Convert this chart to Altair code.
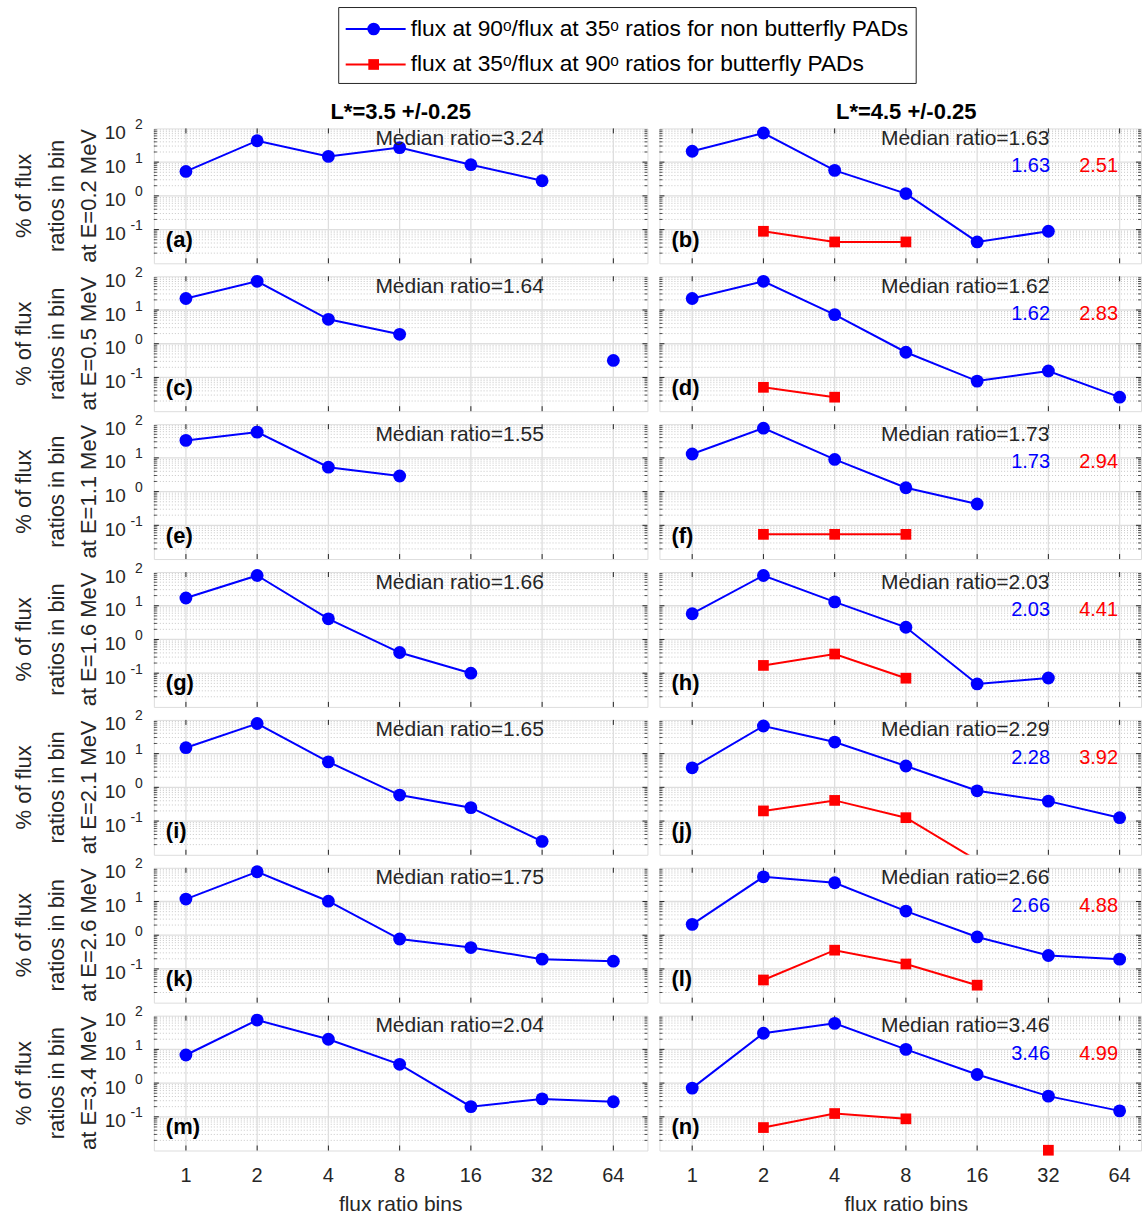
import altair as alt
import pandas as pd

# ---- data -------------------------------------------------------------
BINS = [1, 2, 4, 8, 16, 32, 64]
ENERGIES = ["0.2", "0.5", "1.1", "1.6", "2.1", "2.6", "3.4"]
LETTERS_LEFT = ["(a)", "(c)", "(e)", "(g)", "(i)", "(k)", "(m)"]
LETTERS_RIGHT = ["(b)", "(d)", "(f)", "(h)", "(j)", "(l)", "(n)"]
COLUMN_TITLES = ["L*=3.5 +/-0.25", "L*=4.5 +/-0.25"]

MEDIAN_LEFT = ["3.24", "1.64", "1.55", "1.66", "1.65", "1.75", "2.04"]
MEDIAN_RIGHT = ["1.63", "1.62", "1.73", "2.03", "2.29", "2.66", "3.46"]
BLUE_NOTE = ["1.63", "1.62", "1.73", "2.03", "2.28", "2.66", "3.46"]
RED_NOTE = ["2.51", "2.83", "2.94", "4.41", "3.92", "4.88", "4.99"]

# % of flux ratios in each bin (None = empty bin)
LEFT_BLUE = [
    [5.3, 43, 14.8, 27, 8.4, 2.8, None],
    [22, 71, 5.3, 1.9, None, None, 0.32],
    [33, 58, 5.3, 2.9, None, None, None],
    [17, 79, 4.1, 0.41, 0.10, None, None],
    [15, 78, 5.7, 0.59, 0.25, 0.025, None],
    [11.8, 76, 10.2, 0.77, 0.43, 0.195, 0.17],
    [6.8, 74, 20, 3.6, 0.20, 0.34, 0.28],
]
RIGHT_BLUE = [
    [21, 73, 5.7, 1.17, 0.043, 0.089, None],
    [22, 71, 7.3, 0.56, 0.078, 0.155, 0.026],
    [13, 76, 9.0, 1.3, 0.43, None, None],
    [5.8, 79, 13, 2.3, 0.048, 0.072, None],
    [3.8, 66, 22, 4.3, 0.79, 0.39, 0.126],
    [2.1, 54, 36, 5.2, 0.89, 0.25, 0.195],
    [0.71, 30, 59, 10, 1.8, 0.41, 0.15],
]
RIGHT_RED = [
    [None, 0.089, 0.043, 0.043, None, None, None],
    [None, 0.051, 0.026, None, None, None, None],
    [None, 0.054, 0.054, 0.054, None, None, None],
    [None, 0.17, 0.37, 0.071, None, None, None],
    [None, 0.20, 0.41, 0.126, 0.0068, None, None],
    [None, 0.047, 0.36, 0.14, 0.033, None, None],
    [None, 0.048, 0.125, 0.087, None, 0.0102, None],
]

Y_MIN, Y_MAX = 0.01, 100
DECADES = [0.1, 1, 10]
TICK_LABELS = pd.DataFrame({"v": [0.1, 1, 10, 100], "e": ["-1", "0", "1", "2"]})
MINOR = [m * 10.0 ** d for d in (-2, -1, 0, 1) for m in range(2, 10)]

LEGEND_BLUE = "flux at 90ᵒ/flux at 35ᵒ ratios for non butterfly PADs"
LEGEND_RED = "flux at 35ᵒ/flux at 90ᵒ ratios for butterfly PADs"

# ---- styling ----------------------------------------------------------
FONT = "Liberation Sans"
INK = "#262626"
BLUE = "#0000ff"
RED = "#ff0000"
W_L, W_R, H = 494, 482, 135
PX_OCT = 71.3
LEGEND_TOP = -121  # legend box top, relative to the first panel


def one(**kw):
    return pd.DataFrame({k: [v] for k, v in kw.items()})


def series_frame(values):
    rows, seg, prev = [], 0, False
    for b, v in zip(BINS, values):
        if v is None:
            if prev:
                seg += 1
            prev = False
            continue
        rows.append({"b": b, "v": v, "seg": seg})
        prev = True
    return pd.DataFrame(rows)


def txt(text, x, y, size, **kw):
    return alt.Chart(one(t=text)).mark_text(font=FONT, fontSize=size, **kw).encode(
        text="t:N", x=alt.value(x), y=alt.value(y)
    )


def legend_layers():
    top = LEGEND_TOP
    items = [(21.5, BLUE, "circle", 160, LEGEND_BLUE), (57, RED, "square", 115, LEGEND_RED)]
    layers = [
        # anchor keeping the left margin for the y titles
        alt.Chart(one(k=0)).mark_rule(opacity=0).encode(
            x=alt.value(-153), x2=alt.value(-152), y=alt.value(top), y2=alt.value(top + 1)
        ),
        alt.Chart(one(k=0)).mark_rect(fill="white", stroke=INK, strokeWidth=1).encode(
            x=alt.value(185), x2=alt.value(763), y=alt.value(top), y2=alt.value(top + 76)
        ),
    ]
    for dy, color, shape, size, label in items:
        y = top + dy
        layers.append(
            alt.Chart(one(k=0)).mark_rule(color=color, strokeWidth=2).encode(
                x=alt.value(192), x2=alt.value(252), y=alt.value(y)
            )
        )
        layers.append(
            alt.Chart(one(k=0)).mark_point(shape=shape, filled=True, size=size, color=color, opacity=1).encode(
                x=alt.value(220), y=alt.value(y)
            )
        )
        layers.append(txt(label, 257, y, 22.8, color="#000000", align="left", baseline="middle"))
    return layers


def panel(r, side):
    w = W_L if side == 0 else W_R
    lo = -0.45 if side == 0 else -0.46
    xs = alt.Scale(type="log", base=2, domain=[2 ** lo, 2 ** (lo + w / PX_OCT)], nice=False)
    ys = alt.Scale(type="log", domain=[Y_MIN, Y_MAX], nice=False)

    def X(f):
        return alt.X(f, type="quantitative", scale=xs, axis=None)

    def Y(f):
        return alt.Y(f, type="quantitative", scale=ys, axis=None)

    bins_df = pd.DataFrame({"b": BINS})
    dec_df = pd.DataFrame({"v": DECADES})
    minor_df = pd.DataFrame({"v": MINOR})

    layers = [
        # dotted minor grid
        alt.Chart(minor_df).mark_rule(color="#c8c8c8", strokeDash=[1, 2], strokeWidth=1).encode(
            y=Y("v"), x=alt.value(0), x2=alt.value(w)
        ),
        # major grid
        alt.Chart(dec_df).mark_rule(color="#dedede", strokeWidth=1.3).encode(
            y=Y("v"), x=alt.value(0), x2=alt.value(w)
        ),
        alt.Chart(bins_df).mark_rule(color="#dedede", strokeWidth=1.3).encode(
            x=X("b"), y=alt.value(0), y2=alt.value(H)
        ),
        # inward ticks
        alt.Chart(bins_df).mark_rule(color=INK).encode(x=X("b"), y=alt.value(H), y2=alt.value(H - 5)),
        alt.Chart(bins_df).mark_rule(color=INK).encode(x=X("b"), y=alt.value(0), y2=alt.value(5)),
        alt.Chart(dec_df).mark_rule(color=INK).encode(y=Y("v"), x=alt.value(0), x2=alt.value(5)),
        alt.Chart(dec_df).mark_rule(color=INK).encode(y=Y("v"), x=alt.value(w), x2=alt.value(w - 5)),
        alt.Chart(minor_df).mark_rule(color=INK, strokeWidth=0.8).encode(y=Y("v"), x=alt.value(0), x2=alt.value(3)),
        alt.Chart(minor_df).mark_rule(color=INK, strokeWidth=0.8).encode(y=Y("v"), x=alt.value(w), x2=alt.value(w - 3)),
    ]

    in_range = f"datum.v >= {Y_MIN}"
    blue = series_frame(LEFT_BLUE[r] if side == 0 else RIGHT_BLUE[r])
    layers += [
        alt.Chart(blue).mark_line(color=BLUE, strokeWidth=2, clip=True).encode(
            x=X("b"), y=Y("v"), detail="seg:N"
        ),
        alt.Chart(blue).transform_filter(in_range).mark_point(
            shape="circle", filled=True, size=165, color=BLUE, opacity=1
        ).encode(x=X("b"), y=Y("v")),
    ]
    if side == 1:
        red = series_frame(RIGHT_RED[r])
        layers += [
            alt.Chart(red).mark_line(color=RED, strokeWidth=2, clip=True).encode(
                x=X("b"), y=Y("v"), detail="seg:N"
            ),
            alt.Chart(red).transform_filter(in_range).mark_point(
                shape="square", filled=True, size=115, color=RED, opacity=1
            ).encode(x=X("b"), y=Y("v")),
        ]

    median = MEDIAN_LEFT[r] if side == 0 else MEDIAN_RIGHT[r]
    layers.append(txt(f"Median ratio={median}", 306, 16.5, 21, color=INK, align="center", baseline="alphabetic"))
    letter = LETTERS_LEFT[r] if side == 0 else LETTERS_RIGHT[r]
    layers.append(txt(letter, 12, 118.5, 22, color="#000000", fontWeight="bold", align="left", baseline="alphabetic"))
    if side == 1:
        layers.append(txt(BLUE_NOTE[r], 391, 44, 20, color=BLUE, align="right", baseline="alphabetic"))
        layers.append(txt(RED_NOTE[r], 459, 44, 20, color=RED, align="right", baseline="alphabetic"))

    if side == 0:
        # y tick labels 10^k
        layers.append(
            alt.Chart(TICK_LABELS).mark_text(
                font=FONT, fontSize=19, color=INK, align="right", baseline="alphabetic", dy=10.5
            ).encode(y=Y("v"), x=alt.value(-28), text=alt.value("10"))
        )
        layers.append(
            alt.Chart(TICK_LABELS).mark_text(
                font=FONT, fontSize=14, color=INK, align="right", baseline="alphabetic", dy=0.5
            ).encode(y=Y("v"), x=alt.value(-11), text="e:N")
        )
        # y title, three lines
        for text, bx in zip(["% of flux", "ratios in bin", f"at E={ENERGIES[r]} MeV"], [-123, -90, -58]):
            layers.append(txt(text, bx, H / 2, 22, color=INK, angle=270, align="center", baseline="alphabetic"))

    if r == 0:
        layers.append(txt(COLUMN_TITLES[side], 247, -9, 22, color="#000000", fontWeight="bold",
                          align="center", baseline="alphabetic"))
        if side == 0:
            layers += legend_layers()

    if r == len(ENERGIES) - 1:
        layers.append(
            alt.Chart(bins_df).mark_text(font=FONT, fontSize=20, color=INK, align="center", baseline="alphabetic").encode(
                x=X("b"), y=alt.value(H + 32), text="b:N"
            )
        )
        layers.append(txt("flux ratio bins", 247, H + 61, 21, color=INK, align="center", baseline="alphabetic"))

    return alt.layer(*layers).properties(width=w, height=H)


panels = [panel(r, side) for r in range(len(ENERGIES)) for side in (0, 1)]

chart = (
    alt.concat(*panels, columns=2, spacing={"row": 13, "column": 12}, bounds="flush")
    .properties(padding={"left": 0, "top": 6, "right": 0, "bottom": 0})
    .configure_view(stroke=INK, strokeWidth=1.5)
    .configure(font=FONT)
)

chart.save("out.html", embed_options={"renderer": "svg", "actions": False})
